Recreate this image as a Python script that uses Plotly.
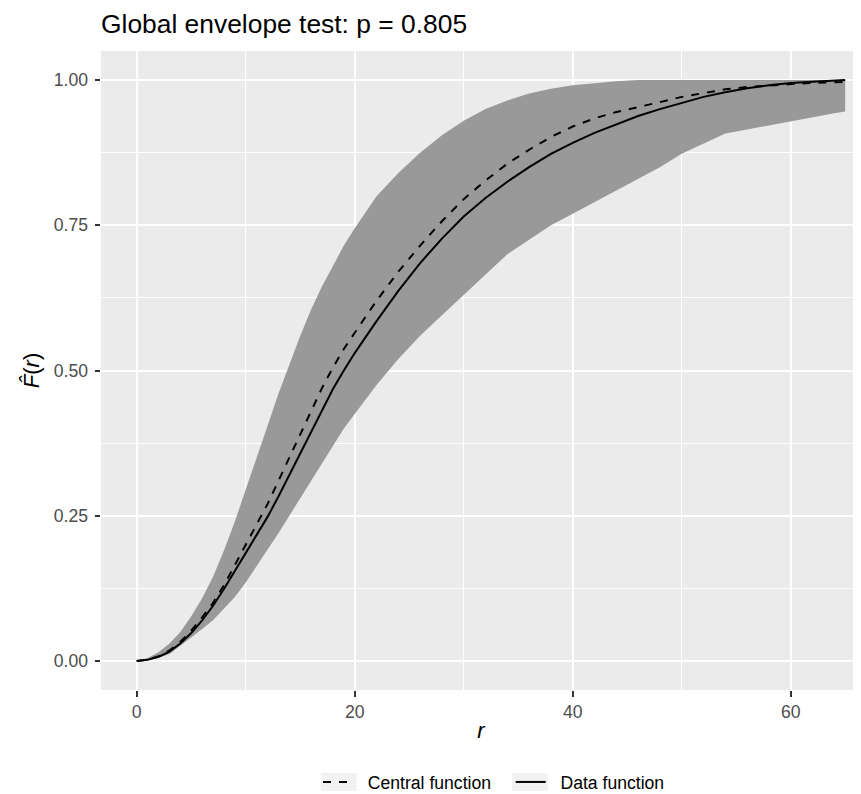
import plotly.graph_objects as go

r = list(range(0, 21)) + list(range(22, 65, 2)) + [65]

central = [0, 0.002, 0.008, 0.018, 0.033, 0.052, 0.075, 0.10, 0.13, 0.165, 0.20,
           0.235, 0.27, 0.31, 0.35, 0.39, 0.43, 0.47, 0.505, 0.537, 0.565,
           0.62, 0.67, 0.715, 0.757, 0.795, 0.827, 0.856, 0.88, 0.902, 0.92,
           0.934, 0.945, 0.953, 0.962, 0.971, 0.978, 0.984, 0.988, 0.991, 0.993,
           0.995, 0.996, 0.997]

data_fn = [0, 0.002, 0.007, 0.016, 0.03, 0.048, 0.07, 0.095, 0.124, 0.155, 0.185,
           0.215, 0.248, 0.283, 0.32, 0.358, 0.396, 0.433, 0.468, 0.50, 0.53,
           0.585, 0.637, 0.685, 0.727, 0.765, 0.797, 0.825, 0.85, 0.873, 0.892,
           0.909, 0.924, 0.938, 0.95, 0.961, 0.971, 0.979, 0.986, 0.991, 0.995,
           0.997, 0.999, 1.0]

upper = [0, 0.005, 0.015, 0.03, 0.05, 0.077, 0.108, 0.145, 0.19, 0.24, 0.295,
         0.35, 0.405, 0.46, 0.51, 0.56, 0.605, 0.645, 0.68, 0.715, 0.745,
         0.80, 0.84, 0.875, 0.905, 0.93, 0.95, 0.965, 0.977, 0.985, 0.991,
         0.995, 0.998, 1.0, 1.0, 1.0, 1.0, 1.0, 1.0, 1.0, 1.0,
         1.0, 1.0, 1.0]

lower = [0, 0.001, 0.005, 0.012, 0.026, 0.04, 0.055, 0.07, 0.09, 0.11, 0.135,
         0.163, 0.19, 0.22, 0.25, 0.28, 0.31, 0.34, 0.37, 0.40, 0.425,
         0.475, 0.52, 0.56, 0.595, 0.63, 0.665, 0.70, 0.725, 0.75, 0.77,
         0.79, 0.81, 0.83, 0.85, 0.873, 0.89, 0.908, 0.915, 0.922, 0.93,
         0.937, 0.943, 0.946]

y_ticks = [0, 0.25, 0.5, 0.75, 1.0]
y_ticklabels = ["0.00", "0.25", "0.50", "0.75", "1.00"]
x_ticks = [0, 20, 40, 60]
x_ticklabels = ["0", "20", "40", "60"]

FONT = "Liberation Sans, Arial, Helvetica, sans-serif"
W, H = 853, 786          # page body has an 8px margin
ML, MT, MB = 93, 43, 104
PW, PH = W - ML, H - MT - MB

def px_to_paper_x(sx):
    return (sx - 8 - ML) / PW

def px_to_paper_y(sy):
    return (H - MB - (sy - 8)) / PH

fig = go.Figure()
fig.add_trace(go.Scatter(x=r, y=lower, mode="lines", line=dict(width=0, color="#999999"),
                         showlegend=False, hoverinfo="skip"))
fig.add_trace(go.Scatter(x=r, y=upper, mode="lines", line=dict(width=0, color="#999999"),
                         fill="tonexty", fillcolor="#999999", showlegend=False, hoverinfo="skip"))
fig.add_trace(go.Scatter(x=r, y=central, mode="lines",
                         name="\u00a0\u00a0Central function\u00a0\u00a0\u00a0",
                         line=dict(color="black", width=2, dash="8px,8px")))
fig.add_trace(go.Scatter(x=r, y=data_fn, mode="lines", name="\u00a0\u00a0Data function",
                         line=dict(color="black", width=2)))

# legend key backgrounds (grey95 like ggplot)
for x0, x1 in [(320.7, 356.7), (512, 548)]:
    fig.add_shape(type="rect", xref="paper", yref="paper",
                  x0=px_to_paper_x(x0), x1=px_to_paper_x(x1),
                  y0=px_to_paper_y(791), y1=px_to_paper_y(773),
                  fillcolor="#F2F2F2", line=dict(width=0), layer="below")

fig.update_layout(
    width=W, height=H,
    margin=dict(l=ML, r=0, t=MT, b=MB, autoexpand=False),
    paper_bgcolor="white",
    plot_bgcolor="#EBEBEB",
    font=dict(family=FONT, color="black"),
    title=dict(text="Global envelope test: p = 0.805", x=0, xref="paper", xanchor="left",
               y=1 - 16 / H, yref="container", yanchor="middle",
               font=dict(size=26.4, color="black", family=FONT)),
    legend=dict(orientation="h", x=310 / W, xref="container", xanchor="left",
                y=(H - 774) / H, yref="container", yanchor="middle",
                font=dict(size=17.6, color="black", family=FONT),
                bgcolor="rgba(0,0,0,0)", itemwidth=30, traceorder="normal"),
    showlegend=True,
)

fig.update_xaxes(
    range=[-3.28, 66.45], tickmode="array", tickvals=x_ticks, ticktext=x_ticklabels,
    showgrid=True, gridcolor="white", gridwidth=2.2, zeroline=False,
    minor=dict(tickmode="array", tickvals=[10, 30, 50], showgrid=True, gridcolor="white",
               gridwidth=1.1, ticks=""),
    ticks="outside", ticklen=5.5, tickwidth=2, tickcolor="#333333",
    ticklabelstandoff=0,
    tickfont=dict(size=17.6, color="#4D4D4D", family=FONT),
    title=dict(text="<i>r</i>", font=dict(size=22, color="black", family=FONT), standoff=1),
    showline=False,
)
fig.update_yaxes(
    range=[-0.05, 1.05], tickmode="array", tickvals=y_ticks, ticktext=y_ticklabels,
    showgrid=True, gridcolor="white", gridwidth=2.2, zeroline=False,
    minor=dict(tickmode="array", tickvals=[0.125, 0.375, 0.625, 0.875], showgrid=True,
               gridcolor="white", gridwidth=1.1, ticks=""),
    ticks="outside", ticklen=5.5, tickwidth=2, tickcolor="#333333",
    ticklabelstandoff=3,
    tickfont=dict(size=17.6, color="#4D4D4D", family=FONT),
    title=dict(text="<i>F\u0302</i>(<i>r</i>)", font=dict(size=22, color="black", family=FONT),
               standoff=8),
    showline=False,
)

fig.write_html("out.html")
